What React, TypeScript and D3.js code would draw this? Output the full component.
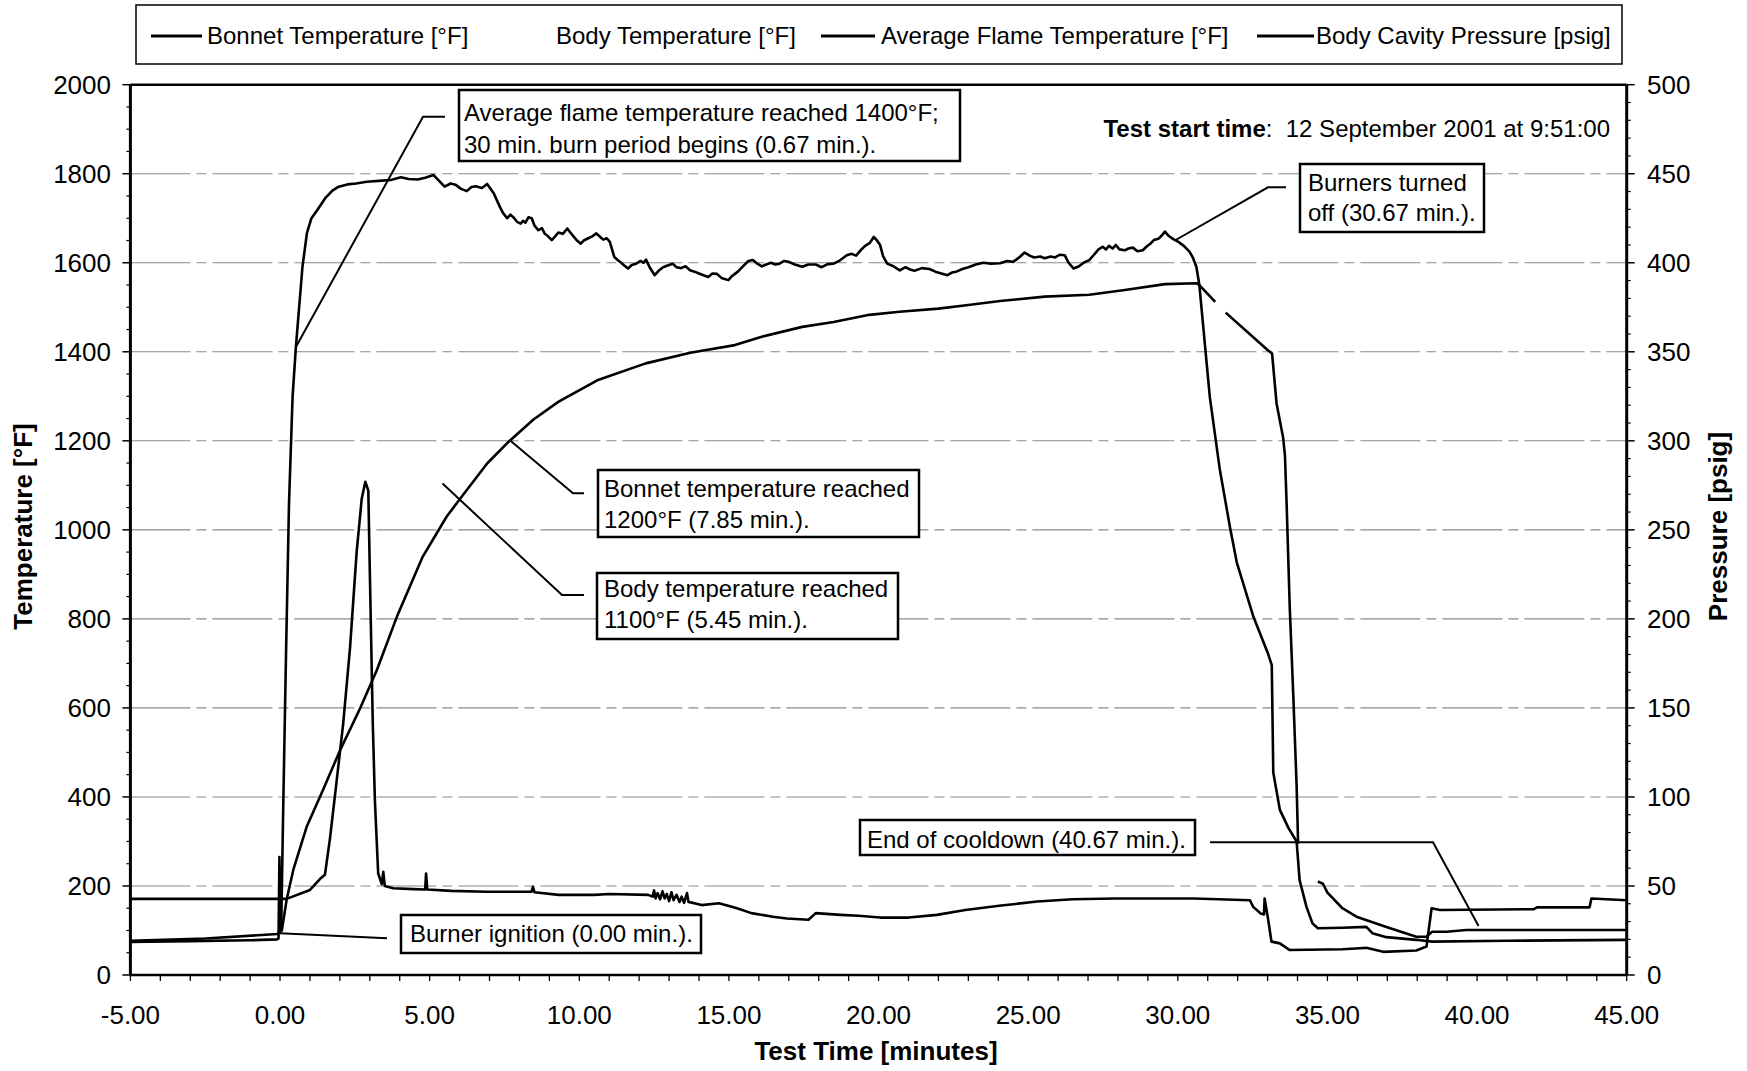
import React from 'react';
import * as d3 from 'd3';

// ---------- data ----------
const xTickValues = [-5, 0, 5, 10, 15, 20, 25, 30, 35, 40, 45];
const tempTickValues = [0, 200, 400, 600, 800, 1000, 1200, 1400, 1600, 1800, 2000];
const pressureTickValues = [0, 50, 100, 150, 200, 250, 300, 350, 400, 450, 500];

const seriesNames = [
  'Bonnet Temperature [°F]',
  'Body Temperature [°F]',
  'Average Flame Temperature [°F]',
  'Body Cavity Pressure [psig]',
];

const flameTime = [
  -5, -3, -1, -0.1, -0.05, -0.02, 0.0, 0.02, 0.04, 0.1, 0.2, 0.3, 0.42, 0.53, 0.75, 0.9, 1.05, 1.24, 1.51, 1.75,
  1.96, 2.25, 2.54, 2.9, 3.29, 3.7, 4.04, 4.3, 4.6, 4.85, 5.13, 5.3, 5.5, 5.7, 5.87, 6.05, 6.24, 6.4, 6.54, 6.75,
  6.92, 7.14, 7.35, 7.45, 7.59, 7.7, 7.8, 7.92, 8.04, 8.12, 8.2, 8.3, 8.41, 8.5, 8.63, 8.75, 8.85, 8.95, 9.08,
  9.2, 9.3, 9.45, 9.6, 9.7, 9.8, 9.92, 10.05, 10.15, 10.3, 10.45, 10.57, 10.7, 10.8, 10.92, 11.02, 11.17, 11.3,
  11.4, 11.5, 11.63, 11.75, 11.9, 12.05, 12.15, 12.23, 12.35, 12.52, 12.65, 12.8, 12.95, 13.12, 13.25, 13.4,
  13.55, 13.7, 13.85, 14.0, 14.15, 14.31, 14.45, 14.6, 14.75, 14.98, 15.1, 15.3, 15.5, 15.65, 15.8, 15.95, 16.1,
  16.2, 16.4, 16.55, 16.69, 16.85, 17.0, 17.2, 17.45, 17.65, 17.9, 18.1, 18.3, 18.5, 18.7, 18.94, 19.1, 19.25,
  19.4, 19.55, 19.7, 19.84, 19.95, 20.05, 20.15, 20.29, 20.5, 20.71, 20.9, 21.05, 21.2, 21.45, 21.7, 21.9, 22.1,
  22.3, 22.45, 22.6, 22.8, 23.0, 23.25, 23.5, 23.75, 24.06, 24.3, 24.5, 24.7, 24.88, 25.05, 25.2, 25.4, 25.55,
  25.75, 25.9, 26.05, 26.22, 26.35, 26.52, 26.7, 26.85, 27.04, 27.2, 27.35, 27.49, 27.6, 27.7, 27.82, 27.93,
  28.05, 28.23, 28.35, 28.5, 28.65, 28.83, 28.95, 29.1, 29.2, 29.35, 29.45, 29.57, 29.7, 29.85, 30.02, 30.2,
  30.39, 30.5, 30.62, 30.72, 31.07, 31.4, 31.74, 31.97, 32.52, 33.02, 33.14, 33.19, 33.41, 33.7, 33.97,
  34.07, 34.3, 34.5, 34.68, 35.5, 36.3, 36.5, 36.97, 37.97, 38.5, 41, 45,
];
const flameTemp = [
  74, 76, 78, 80, 82, 265, 95, 240, 110, 350, 720, 1060, 1300, 1411, 1591, 1667, 1700, 1718, 1745, 1762,
  1771, 1776, 1778, 1782, 1784, 1786, 1792, 1788, 1787, 1791, 1797, 1785, 1771, 1778, 1775, 1766, 1761, 1770, 1772, 1768,
  1777, 1756, 1725, 1712, 1700, 1708, 1702, 1692, 1688, 1694, 1690, 1702, 1700, 1684, 1673, 1678, 1665, 1660, 1651,
  1660, 1668, 1665, 1677, 1668, 1660, 1650, 1643, 1650, 1655, 1660, 1666, 1658, 1652, 1655, 1647, 1613, 1605,
  1600, 1594, 1587, 1595, 1598, 1604, 1600, 1607, 1590, 1572, 1582, 1590, 1594, 1598, 1590, 1588,
  1592, 1583, 1580, 1576, 1572, 1568, 1576, 1575, 1566, 1561, 1570, 1580, 1594, 1604, 1606, 1598, 1592,
  1595, 1600, 1596, 1598, 1604, 1602, 1596, 1591, 1596, 1596, 1590, 1597, 1598, 1605, 1617, 1620, 1616,
  1628, 1638, 1644, 1658, 1650, 1640, 1615, 1598, 1592, 1583, 1590, 1585, 1582, 1588, 1586, 1580, 1576,
  1572, 1578, 1580, 1586, 1590, 1596, 1600, 1598, 1599, 1604, 1602, 1612, 1623, 1616, 1612, 1614, 1610,
  1614, 1612, 1618, 1617, 1600, 1587, 1592, 1600, 1606, 1618, 1630, 1636, 1630, 1638, 1632, 1640,
  1630, 1628, 1632, 1634, 1626, 1628, 1636, 1644, 1651, 1654, 1660, 1670, 1660, 1653, 1647, 1638,
  1625, 1612, 1591, 1550, 1298, 1137, 1007, 927, 806, 721, 696, 455, 371, 330, 300,
  213, 153, 116, 105, 106, 108, 94, 85, 79, 75, 77, 79,
];

const bonnetTime = [
  -5, -2.5, -0.1, 0.06, 0.22, 0.45, 0.89, 1.45, 2.0, 2.67, 3.23, 3.9, 4.77, 5.57, 6.03, 6.92, 7.64, 8.47, 9.31,
  10.6, 12.22, 13.71, 15.2, 16.1, 17.45, 18.5, 19.69, 20.7, 22.0, 23.0, 24.06, 25.55, 27.04, 28.23, 29.57, 30.62,
  30.72, 31.25, 31.4, 31.6, 33.0, 33.15, 33.3, 33.52, 33.58, 33.64, 33.74, 33.86, 33.97, 34.02, 34.3,
  34.68, 34.85, 35.0, 35.5, 35.97, 36.97, 37.97, 38.3, 38.5, 38.98, 39.64, 45,
];
const bonnetTemp = [
  77, 82, 92, 100, 169, 238, 333, 418, 504, 598, 684, 804, 940, 1030, 1071, 1149, 1198, 1248, 1288,
  1336, 1374, 1398, 1415, 1434, 1456, 1467, 1483, 1490, 1497, 1505, 1514, 1524, 1528, 1539, 1552, 1554,
  1550, 1512, NaN, 1488, 1404, 1396, 1284, 1207, 1167, 1050, 827, 626, 425, 295, NaN,
  210, 205, 185, 150, 131, 108, 86, 86, 97, 97, 101, 101,
];

const pressureTime = [
  -5, -0.1, 0.22, 1.0, 1.34, 1.5, 1.67, 1.89, 2.11, 2.34, 2.56, 2.73, 2.85, 2.95, 3.0, 3.1, 3.17, 3.28, 3.4,
  3.45, 3.5, 3.78, 4.45, 4.85, 4.88, 4.92, 5.72, 6.91, 8.4, 8.45, 8.5, 9.31, 10.5, 11.0, 12.3, 12.45, 12.5,
  12.55, 12.62, 12.7, 12.78, 12.85, 12.92, 13.0, 13.08, 13.15, 13.25, 13.35, 13.42, 13.5, 13.6, 13.65, 13.8,
  14.09, 14.67, 15.27, 15.75, 16.47, 16.94, 17.66, 17.9, 18.73, 19.33,
  20.05, 21.0, 21.95, 22.9, 24.1, 25.3, 26.49, 27.92, 30.54, 32.41, 32.52, 32.77, 32.88, 32.9, 33.02, 33.13,
  33.41, 33.74, 35.5, 36.08, 36.3, 36.86, 37.97, 38.31, 38.48, 38.76, 41.9, 42.0, 43.76, 43.82, 45,
];
const pressureValue = [
  42.75, 42.75, 42.75, 47.75, 54, 56.25, 76.75, 108.75, 141, 184, 237.5, 267.5, 277, 272, 226.75, 141, 98, 57, 51,
  58, 50, 48.75, 48.25, 48, 57, 48, 47.25, 46.75, 46.75, 49.5, 46.5, 45, 45, 45.5, 45, 44, 47.5,
  43, 46, 42.5, 47, 43, 45.5, 41.5, 46.5, 42, 45, 41, 44, 40.5, 46, 41, 40.5,
  39.25, 40.25, 37.5, 34.75, 32.75, 31.75, 31, 34.75, 33.75, 33.25,
  32.25, 32.25, 33.75, 36.5, 39, 41.25, 42.5, 43, 43, 42, 38.25, 34.5, 34, 43, 31, 18.75,
  17.75, 14, 14.5, 15, 15.25, 13, 13.75, 16, 37.5, 36.5, 37, 38, 38, 43, 42,
];

// ---------- layout ----------
const W = 1747;
const H = 1071;
const PLOT = { left: 130.4, right: 1626.7, top: 84.7, bottom: 975 };
const FONT = '"Liberation Sans", Arial, Helvetica, sans-serif';

type Ann = {
  lines: string[];
  box: [number, number, number, number];
  textX: number;
  baselines: number[];
  anchor: [number, number];
  path: [number, number][];
};

const annotations: Ann[] = [
  {
    lines: ['Average flame temperature reached 1400°F;', '30 min. burn period begins (0.67 min.).'],
    box: [459, 90, 960, 161],
    textX: 464,
    baselines: [121, 153],
    anchor: [0.53, 1411],
    path: [[423, 116.7], [445, 116.7]],
  },
  {
    lines: ['Burners turned', 'off (30.67 min.).'],
    box: [1300, 164, 1484, 232],
    textX: 1308,
    baselines: [191, 221],
    anchor: [29.9, 1650],
    path: [[1268, 187.3], [1286, 187.3]],
  },
  {
    lines: ['Bonnet temperature reached', '1200°F (7.85 min.).'],
    box: [598, 470, 919, 537],
    textX: 604,
    baselines: [497, 528],
    anchor: [7.7, 1200],
    path: [[573, 493.3], [584, 493.3]],
  },
  {
    lines: ['Body temperature reached', '1100°F (5.45 min.).'],
    box: [597, 573, 898, 639],
    textX: 604,
    baselines: [597, 628],
    anchor: [5.43, 1104],
    path: [[562, 595], [584, 595]],
  },
  {
    lines: ['End of cooldown (40.67 min.).'],
    box: [860, 820, 1195, 855],
    textX: 867,
    baselines: [848],
    anchor: [40.05, 110],
    path: [[1433, 842.3], [1210, 842.3]],
  },
  {
    lines: ['Burner ignition (0.00 min.).'],
    box: [401, 915, 701, 953],
    textX: 410,
    baselines: [942],
    anchor: [0.0, 94],
    path: [[387, 938.3]],
  },
];

export default function App() {
  const x = d3.scaleLinear().domain([-5, 45]).range([PLOT.left, PLOT.right]);
  const yT = d3.scaleLinear().domain([0, 2000]).range([PLOT.bottom, PLOT.top]);
  const yP = d3.scaleLinear().domain([0, 500]).range([PLOT.bottom, PLOT.top]);

  const zip = (t: number[], v: number[]) => t.map((tt, i) => [tt, v[i]] as [number, number]);
  const lineT = d3
    .line<[number, number]>()
    .defined((d) => !isNaN(d[1]))
    .x((d) => x(d[0]))
    .y((d) => yT(d[1]));
  const lineP = d3
    .line<[number, number]>()
    .x((d) => x(d[0]))
    .y((d) => yP(d[1]));

  const flamePath = lineT(zip(flameTime, flameTemp)) || '';
  const bonnetPath = lineT(zip(bonnetTime, bonnetTemp)) || '';
  const pressurePath = lineP(zip(pressureTime, pressureValue)) || '';

  const minorT = d3.range(0, 2001, 50).filter((v) => v % 200 !== 0);
  const minorP = d3.range(0, 501, 10).filter((v) => v % 50 !== 0);
  const xMinor = d3.range(-5, 45.01, 1);

  return (
    <svg
      width={W}
      height={H}
      viewBox={`0 0 ${W} ${H}`}
      style={{ position: 'absolute', left: 0, top: 0, display: 'block', background: '#fff' }}
      fontFamily={FONT}
    >
      <rect x={0} y={0} width={W} height={H} fill="#fff" />

      {/* gridlines */}
      {tempTickValues
        .filter((v) => v > 0 && v < 2000)
        .map((v) => (
          <line
            key={'g' + v}
            x1={PLOT.left}
            x2={PLOT.right}
            y1={yT(v)}
            y2={yT(v)}
            stroke="#8a8a8a"
            strokeWidth={1.1}
            strokeDasharray="60,6,10,6"
          />
        ))}

      {/* data lines */}
      <path d={pressurePath} fill="none" stroke="#000" strokeWidth={2.6} strokeLinejoin="round" />
      <path d={bonnetPath} fill="none" stroke="#000" strokeWidth={2.6} strokeLinejoin="round" />
      <path d={flamePath} fill="none" stroke="#000" strokeWidth={2.6} strokeLinejoin="round" />

      {/* frame */}
      <line x1={PLOT.left} x2={PLOT.right} y1={PLOT.top} y2={PLOT.top} stroke="#000" strokeWidth={2.5} />
      <line x1={PLOT.left} x2={PLOT.right} y1={PLOT.bottom} y2={PLOT.bottom} stroke="#000" strokeWidth={2.5} />
      <line x1={PLOT.left} x2={PLOT.left} y1={PLOT.top} y2={PLOT.bottom} stroke="#000" strokeWidth={3} />
      <line x1={PLOT.right} x2={PLOT.right} y1={PLOT.top} y2={PLOT.bottom} stroke="#000" strokeWidth={3} />

      {/* left axis ticks */}
      {tempTickValues.map((v) => (
        <g key={'lt' + v}>
          <line x1={PLOT.left - 8} x2={PLOT.left} y1={yT(v)} y2={yT(v)} stroke="#000" strokeWidth={1.5} />
          <text x={111} y={yT(v) + 9.3} fontSize={26} textAnchor="end" fill="#000">
            {v}
          </text>
        </g>
      ))}
      {minorT.map((v) => (
        <line key={'lm' + v} x1={PLOT.left - 4} x2={PLOT.left} y1={yT(v)} y2={yT(v)} stroke="#000" strokeWidth={1.2} />
      ))}

      {/* right axis ticks */}
      {pressureTickValues.map((v) => (
        <g key={'rt' + v}>
          <line x1={PLOT.right} x2={PLOT.right + 8} y1={yP(v)} y2={yP(v)} stroke="#000" strokeWidth={1.5} />
          <text x={1647} y={yP(v) + 9.3} fontSize={26} textAnchor="start" fill="#000">
            {v}
          </text>
        </g>
      ))}
      {minorP.map((v) => (
        <line key={'rm' + v} x1={PLOT.right} x2={PLOT.right + 4} y1={yP(v)} y2={yP(v)} stroke="#000" strokeWidth={1.2} />
      ))}

      {/* x axis ticks */}
      {xMinor.map((v) => (
        <line key={'xm' + v} x1={x(v)} x2={x(v)} y1={PLOT.bottom} y2={PLOT.bottom + 6} stroke="#000" strokeWidth={1.3} />
      ))}
      {xTickValues.map((v) => (
        <text key={'xt' + v} x={x(v)} y={1024} fontSize={26} textAnchor="middle" fill="#000">
          {v.toFixed(2)}
        </text>
      ))}

      {/* axis titles */}
      <text transform={`translate(32,526.5) rotate(-90)`} fontSize={26} fontWeight="bold" textAnchor="middle" fill="#000">
        Temperature [°F]
      </text>
      <text transform={`translate(1727,526.5) rotate(-90)`} fontSize={26} fontWeight="bold" textAnchor="middle" fill="#000">
        Pressure [psig]
      </text>
      <text x={876} y={1060} fontSize={26} fontWeight="bold" textAnchor="middle" fill="#000">
        Test Time [minutes]
      </text>

      {/* test start time */}
      <text x={1610} y={137} fontSize={24} textAnchor="end" fill="#000">
        <tspan fontWeight="bold">Test start time</tspan>
        <tspan>{':\u00a0 12 September 2001 at 9:51:00'}</tspan>
      </text>

      {/* annotations */}
      {annotations.map((a, i) => {
        const ax = x(a.anchor[0]);
        const ay = yT(a.anchor[1]);
        const pts = [[ax, ay], ...a.path];
        const d = 'M' + pts.map((p) => `${p[0]},${p[1]}`).join('L');
        const [bx0, by0, bx1, by1] = a.box;
        return (
          <g key={'ann' + i}>
            <path d={d} fill="none" stroke="#000" strokeWidth={2} />
            <rect x={bx0} y={by0} width={bx1 - bx0} height={by1 - by0} fill="#fff" stroke="#000" strokeWidth={2.5} />
            {a.lines.map((ln, j) => (
              <text key={j} x={a.textX} y={a.baselines[j]} fontSize={24} fill="#000">
                {ln}
              </text>
            ))}
          </g>
        );
      })}

      {/* legend */}
      <rect x={136} y={5} width={1486} height={59} fill="#fff" stroke="#000" strokeWidth={1.5} />
      <line x1={151} x2={202} y1={36} y2={36} stroke="#000" strokeWidth={3} />
      <text x={207} y={44} fontSize={24} fill="#000">
        {seriesNames[0]}
      </text>
      <text x={556} y={44} fontSize={24} fill="#000">
        {seriesNames[1]}
      </text>
      <line x1={821} x2={875} y1={36} y2={36} stroke="#000" strokeWidth={3} />
      <text x={881} y={44} fontSize={24} fill="#000">
        {seriesNames[2]}
      </text>
      <line x1={1257} x2={1314} y1={36} y2={36} stroke="#000" strokeWidth={3} />
      <text x={1316} y={44} fontSize={24} fill="#000">
        {seriesNames[3]}
      </text>
    </svg>
  );
}
